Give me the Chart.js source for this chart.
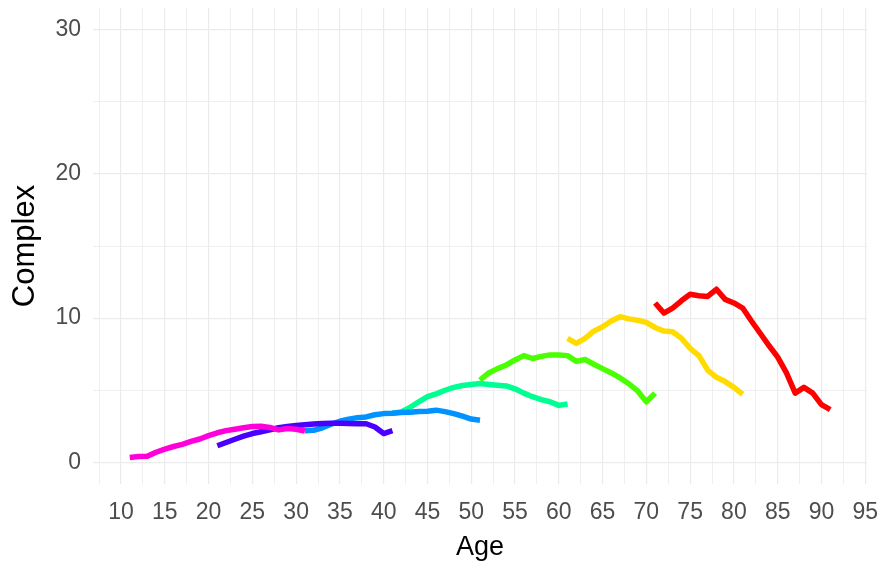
<!DOCTYPE html>
<html>
<head>
<meta charset="utf-8">
<script src="https://cdn.jsdelivr.net/npm/chart.js@4.4.1/dist/chart.umd.min.js"></script>
<style>
  html, body { margin: 0; padding: 0; background: #ffffff; }
  #wrap { width: 885px; height: 570px; }
</style>
</head>
<body>
<div id="wrap"><canvas id="chart" width="885" height="570"></canvas></div>
<script>
// Age cohorts, each followed over 21 consecutive years of age
const cohortLabels = ['71-91', '61-81', '51-71', '41-61', '31-51', '21-41', '11-31'];
const cohortStartAge = [71, 61, 51, 41, 31, 21, 11];
const cohortColors = ['#FF0000', '#FFDB00', '#49FF00', '#00FF92', '#0092FF', '#4900FF', '#FF00DB'];

// Mean "Complex" score at each age within a cohort
const complex71 = [11.05, 10.35, 10.7, 11.2, 11.65, 11.55, 11.5, 12.0, 11.3, 11.05, 10.7, 9.8, 8.95, 8.1, 7.3, 6.2, 4.8, 5.2, 4.8, 4.0, 3.65];
const complex61 = [8.6, 8.25, 8.6, 9.1, 9.4, 9.8, 10.1, 9.95, 9.85, 9.7, 9.35, 9.1, 9.05, 8.6, 7.9, 7.4, 6.4, 5.9, 5.6, 5.2, 4.72];
const complex51 = [5.7, 6.2, 6.5, 6.75, 7.1, 7.4, 7.2, 7.35, 7.45, 7.45, 7.4, 7.0, 7.13, 6.8, 6.5, 6.2, 5.85, 5.45, 4.95, 4.2, 4.8];
const complex41 = [3.4, 3.5, 3.8, 4.2, 4.55, 4.75, 5.0, 5.2, 5.33, 5.4, 5.46, 5.4, 5.35, 5.3, 5.1, 4.8, 4.55, 4.35, 4.2, 3.95, 4.05];
const complex31 = [2.2, 2.22, 2.4, 2.65, 2.85, 3.0, 3.1, 3.15, 3.3, 3.38, 3.4, 3.45, 3.48, 3.52, 3.55, 3.62, 3.52, 3.38, 3.2, 3.0, 2.92];
const complex21 = [1.15, 1.38, 1.6, 1.82, 2.0, 2.12, 2.25, 2.4, 2.48, 2.55, 2.6, 2.66, 2.7, 2.72, 2.72, 2.7, 2.68, 2.68, 2.45, 2.0, 2.2];
const complex11 = [0.33, 0.4, 0.42, 0.7, 0.92, 1.1, 1.25, 1.45, 1.62, 1.85, 2.05, 2.2, 2.3, 2.4, 2.48, 2.5, 2.42, 2.25, 2.35, 2.3, 2.17];
const cohortValues = [complex71, complex61, complex51, complex41, complex31, complex21, complex11];

// Axis ticks
const xTickLabels = [10, 15, 20, 25, 30, 35, 40, 45, 50, 55, 60, 65, 70, 75, 80, 85, 90, 95];
const yTickLabels = [0, 10, 20, 30];

// Gridlines sit on every labelled tick and halfway between them
const xGrid = [xTickLabels[0] - 2.5];
xTickLabels.forEach((v, i) => { if (i > 0) xGrid.push((xTickLabels[i - 1] + v) / 2); xGrid.push(v); });
const yGrid = [];
yTickLabels.forEach((v, i) => { if (i > 0) yGrid.push((yTickLabels[i - 1] + v) / 2); yGrid.push(v); });

const datasets = cohortLabels.map((label, k) => ({
  label: label,
  data: cohortValues[k].map((y, i) => ({ x: cohortStartAge[k] + i, y: y })),
  borderColor: cohortColors[k],
  backgroundColor: cohortColors[k],
  order: cohortLabels.length - k
}));

const family = "'Liberation Sans', Arial, sans-serif";
const tickFont = { family: family, size: 23 };
const gridLine = (labels) => (ctx) => labels.includes(ctx.tick.value) ? 1.2 : 0.8;

// Keep the plot panel at a fixed place on the canvas
const noScalePadding = (s) => { s.paddingTop = 0; s.paddingBottom = 0; s.paddingLeft = 0; s.paddingRight = 0; };

new Chart(document.getElementById('chart'), {
  type: 'line',
  data: { datasets: datasets },
  options: {
    responsive: false,
    animation: false,
    layout: { padding: { left: 0, right: 18, top: 8, bottom: 0 } },
    plugins: { legend: { display: false }, tooltip: { enabled: false } },
    elements: {
      point: { radius: 0, hoverRadius: 0 },
      line: { borderWidth: 5.5, tension: 0, borderCapStyle: 'butt', borderJoinStyle: 'round', fill: false }
    },
    scales: {
      x: {
        type: 'linear',
        min: 6.8,
        max: 95.2,
        afterBuildTicks: (s) => { s.ticks = xGrid.map(v => ({ value: v })); },
        afterFit: (s) => { s.height = 86; noScalePadding(s); },
        ticks: {
          autoSkip: false,
          maxRotation: 0,
          padding: 15,
          color: '#4d4d4d',
          font: tickFont,
          callback: (v) => xTickLabels.includes(v) ? String(v) : ''
        },
        grid: { color: '#ebebeb', lineWidth: gridLine(xTickLabels), drawTicks: false },
        border: { display: false },
        title: { display: true, text: 'Age', color: '#000000', font: { family: family, size: 27 }, padding: { top: 0, bottom: 6 } }
      },
      y: {
        type: 'linear',
        min: -1.5,
        max: 31.5,
        afterBuildTicks: (s) => { s.ticks = yGrid.map(v => ({ value: v })); },
        afterFit: (s) => { s.width = 93; noScalePadding(s); },
        ticks: {
          autoSkip: false,
          padding: 12,
          color: '#4d4d4d',
          font: tickFont,
          callback: (v) => yTickLabels.includes(v) ? String(v) : ''
        },
        grid: { color: '#ebebeb', lineWidth: gridLine(yTickLabels), drawTicks: false },
        border: { display: false },
        title: { display: true, text: 'Complex', color: '#000000', font: { family: family, size: 31 }, padding: { top: 7, bottom: 0 } }
      }
    }
  }
});
</script>
</body>
</html>
